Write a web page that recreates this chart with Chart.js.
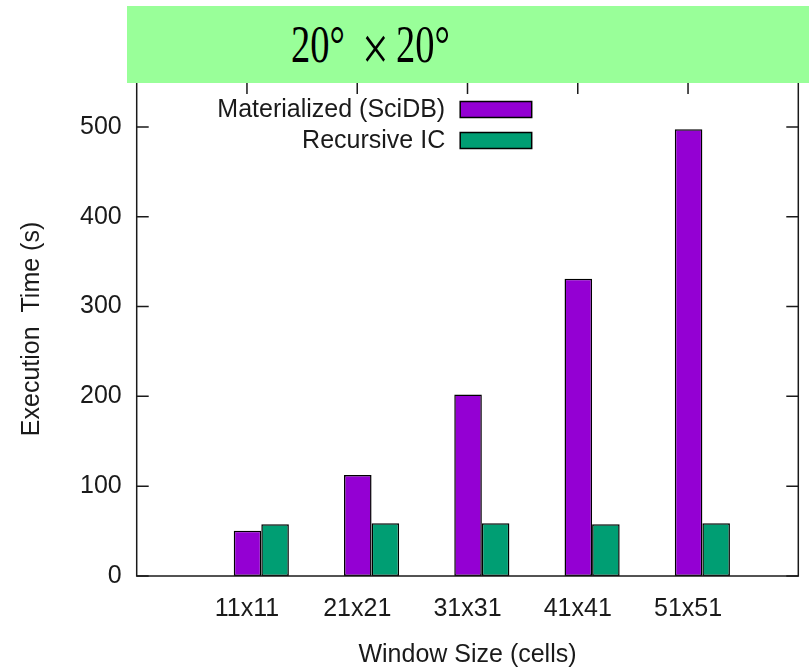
<!DOCTYPE html>
<html>
<head>
<meta charset="utf-8">
<script src="https://cdn.jsdelivr.net/npm/chart.js@4"></script>
<style>
  html, body { margin: 0; padding: 0; background: #fff; }
  #wrap { position: relative; width: 809px; height: 670px; overflow: hidden; }
  #banner { position: absolute; left: 127px; top: 6px; width: 682px; height: 77px; background: #99ff99; z-index: 2; }
  .bt { position: absolute; font-family: "Liberation Serif", serif; color: #000; line-height: 1; white-space: pre; transform-origin: 0 0; transform: scaleX(0.74); z-index: 3; }
</style>
</head>
<body>
<div id="wrap">
  <canvas id="chart" width="809" height="670"></canvas>
  <div id="banner"></div>
  <span class="bt" style="left:291px; top:19px; font-size:52px;">20°</span>
  <span class="bt" style="left:362px; top:17px; font-size:64px;">×</span>
  <span class="bt" style="left:396px; top:19px; font-size:52px;">20°</span>
</div>
<script>
// values
var categories = ['11x11', '21x21', '31x31', '41x41', '51x51'];
var seriesNames = ['Materialized (SciDB)', 'Recursive IC'];
var materialized = [50.5, 112.4, 202.2, 331, 497.4];
var recursiveIC = [57.5, 58.6, 58.6, 57.6, 58.7];
var yTicks = [0, 100, 200, 300, 400, 500];

var colors = ['#9400d3', '#009e73'];
var barShift = 0.13;   // gnuplot puts the bar cluster a bit right of the tic
var fontFamily = '"Liberation Sans", Arial, sans-serif';
var ink = '#1a1a1a';

function points(vals) {
  return vals.map(function (v, i) { return {x: i + barShift, y: v}; });
}

// frame with inward tics + key in the top-left corner, gnuplot style
var framePlugin = {
  id: 'frame',
  afterDatasetsDraw: function (chart) {
    var ctx = chart.ctx, a = chart.chartArea;
    var x = chart.scales.x, y = chart.scales.y;
    ctx.save();
    ctx.strokeStyle = '#1a1a1a';
    ctx.lineWidth = 1.5;
    ctx.strokeRect(a.left, a.top, a.right - a.left, a.bottom - a.top);
    ctx.beginPath();
    y.ticks.forEach(function (t) {
      var py = y.getPixelForValue(t.value);
      ctx.moveTo(a.left, py); ctx.lineTo(a.left + 12, py);
      ctx.moveTo(a.right, py); ctx.lineTo(a.right - 12, py);
    });
    x.ticks.forEach(function (t) {
      var px = x.getPixelForValue(t.value);
      ctx.moveTo(px, a.top); ctx.lineTo(px, a.top + 12);
    });
    ctx.stroke();

    // key
    ctx.font = '25px ' + fontFamily;
    ctx.textAlign = 'right';
    ctx.textBaseline = 'middle';
    chart.data.datasets.forEach(function (ds, i) {
      var cy = a.top + 28.5 + i * 31;
      ctx.fillStyle = ink;
      ctx.fillText(ds.label, a.left + 308.5, cy);
      ctx.fillStyle = ds.backgroundColor;
      ctx.fillRect(a.left + 323.5, cy - 9, 71.5, 16);
      ctx.lineWidth = 1.5;
      ctx.strokeStyle = '#000';
      ctx.strokeRect(a.left + 323.5, cy - 9, 71.5, 16);
    });
    ctx.restore();
  }
};

new Chart(document.getElementById('chart'), {
  type: 'bar',
  data: {
    datasets: [
      {label: seriesNames[0], data: points(materialized), backgroundColor: colors[0]},
      {label: seriesNames[1], data: points(recursiveIC), backgroundColor: colors[1]}
    ]
  },
  options: {
    responsive: false,
    animation: false,
    layout: {padding: {left: 0, top: 82, right: 10.7, bottom: 0}},
    datasets: {
      bar: {
        categoryPercentage: 0.5,
        barPercentage: 1.0,
        borderColor: '#000',
        borderWidth: 1.5,
        borderSkipped: false
      }
    },
    plugins: {
      legend: {display: false},
      tooltip: {enabled: false}
    },
    scales: {
      x: {
        type: 'linear',
        offset: false,
        min: -1,
        max: 5,
        grid: {display: false, drawTicks: false},
        border: {display: false},
        afterBuildTicks: function (s) {
          s.ticks = categories.map(function (c, i) { return {value: i}; });
        },
        afterFit: function (s) { s.height = 94; },
        ticks: {
          autoSkip: false,
          maxRotation: 0,
          padding: 18,
          color: ink,
          font: {family: fontFamily, size: 25},
          callback: function (v) { return categories[v]; }
        },
        title: {
          display: true,
          text: 'Window Size (cells)',
          color: ink,
          font: {family: fontFamily, size: 25},
          padding: {top: 0, bottom: 0}
        }
      },
      y: {
        type: 'linear',
        min: 0,
        max: 550,
        grid: {display: false, drawTicks: false},
        border: {display: false},
        afterBuildTicks: function (s) {
          s.ticks = yTicks.map(function (v) { return {value: v}; });
        },
        afterFit: function (s) { s.width = 136.7; },
        ticks: {
          padding: 15,
          color: ink,
          font: {family: fontFamily, size: 25}
        },
        title: {
          display: true,
          text: 'Execution  Time (s)',
          color: ink,
          font: {family: fontFamily, size: 25},
          padding: {top: 17.5, bottom: 0}
        }
      }
    }
  },
  plugins: [framePlugin]
});
</script>
</body>
</html>
